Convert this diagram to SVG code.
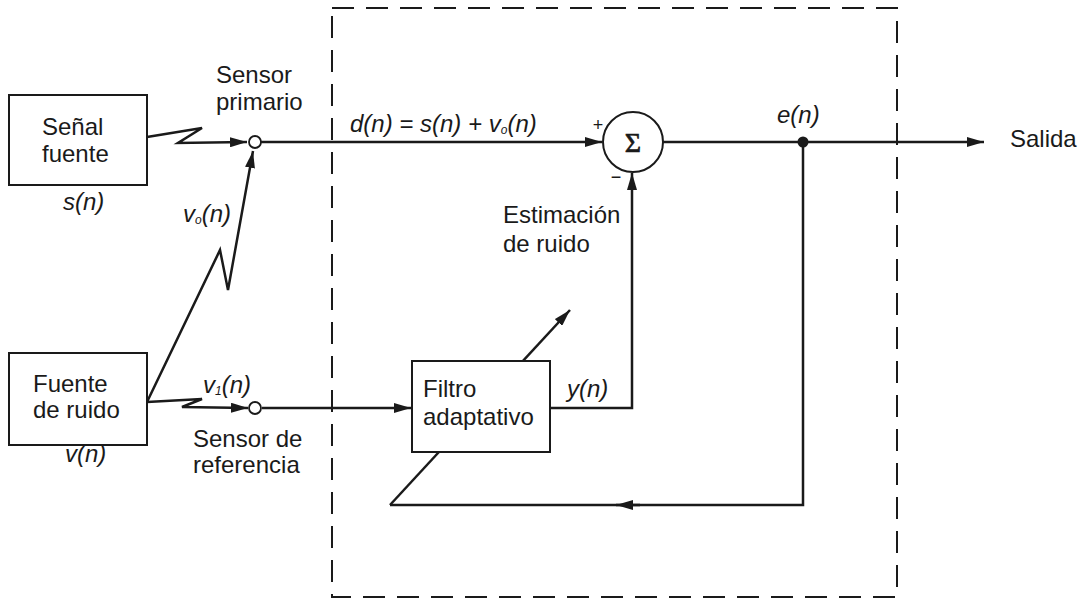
<svg xmlns="http://www.w3.org/2000/svg" width="1084" height="608" viewBox="0 0 1084 608">
<style>
text{font-family:"Liberation Sans",Arial,sans-serif;font-size:24px;fill:#1a1a1a}
.it{font-style:italic}
.ln{fill:none;stroke:#1a1a1a;stroke-width:2.5}
.box{fill:#fff;stroke:#1a1a1a;stroke-width:2}
.dash{fill:none;stroke:#1a1a1a;stroke-width:2;stroke-dasharray:22 12}
.sign{font-size:18px;fill:#1a1a1a}
</style>
<defs>
<marker id="ah" viewBox="0 0 17 10" refX="17" refY="5" markerWidth="17" markerHeight="10" markerUnits="userSpaceOnUse" orient="auto">
<path d="M0,0 L17,5 L0,10 Z" fill="#1a1a1a"/>
</marker>
</defs>
<rect fill="#fff" x="0" y="0" width="1084" height="608"/>
<rect class="dash" x="332" y="8" width="565" height="589"/>
<g id="connectors">
<polyline class="ln" points="147,137 202,128 178,143 247,142" marker-end="url(#ah)"/>
<polyline class="ln" points="147,402 220,250 228,290 253,151" marker-end="url(#ah)"/>
<polyline class="ln" points="147,402 202,399 182,407 248,408" marker-end="url(#ah)"/>
<line class="ln" x1="261" y1="142" x2="602" y2="142" marker-end="url(#ah)"/>
<line class="ln" x1="262" y1="408" x2="411" y2="408" marker-end="url(#ah)"/>
<polyline class="ln" points="550,408 632,408 632,173" marker-end="url(#ah)"/>
<line class="ln" x1="663" y1="142" x2="984" y2="142" marker-end="url(#ah)"/>
<polyline class="ln" points="803,142 803,505 390,505"/>
<line class="ln" x1="640" y1="505" x2="616" y2="505" marker-end="url(#ah)"/>
<line class="ln" x1="390" y1="505" x2="570" y2="310" marker-end="url(#ah)"/>
<circle cx="803" cy="142" r="5.5" fill="#1a1a1a"/>
</g>
<g id="senal-fuente">
<rect class="box" x="9" y="95" width="138" height="90"/>
<text x="42" y="135">Señal</text>
<text x="42" y="162">fuente</text>
<text class="it" x="63" y="210">s(n)</text>
</g>
<g id="fuente-ruido">
<rect class="box" x="9" y="353" width="138" height="92"/>
<text x="33" y="392">Fuente</text>
<text x="33" y="418">de ruido</text>
<text class="it" x="65" y="462">v(n)</text>
</g>
<g id="sensor-primario">
<circle cx="255" cy="142" r="6" fill="#fff" stroke="#1a1a1a" stroke-width="1.8"/>
<text x="216" y="83">Sensor</text>
<text x="216" y="110">primario</text>
<text class="it" x="183" y="222">v<tspan font-size="12" dy="2">o</tspan><tspan dy="-2">(n)</tspan></text>
</g>
<g id="sensor-referencia">
<circle cx="255" cy="408" r="6" fill="#fff" stroke="#1a1a1a" stroke-width="1.8"/>
<text class="it" x="203" y="393">v<tspan font-size="12" dy="2">1</tspan><tspan dy="-2">(n)</tspan></text>
<text x="193" y="447">Sensor de</text>
<text x="193" y="473">referencia</text>
</g>
<g id="filtro">
<rect class="box" x="412" y="361" width="138" height="91"/>
<text x="423" y="397">Filtro</text>
<text x="423" y="425">adaptativo</text>
<text class="it" x="567" y="397">y(n)</text>
</g>
<g id="sumador">
<circle cx="633" cy="142" r="30" fill="#fff" stroke="#1a1a1a" stroke-width="2"/>
<text x="633" y="152" text-anchor="middle" stroke="#1a1a1a" stroke-width="0.7" style="font-family:'Liberation Serif','Times New Roman',serif;font-size:28px">Σ</text>
<text class="sign" x="598" y="131" text-anchor="middle">+</text>
<text class="sign" x="616" y="183" text-anchor="middle">−</text>
<text class="it" x="350" y="132">d(n) = s(n) + v<tspan font-size="12" dy="2">o</tspan><tspan dy="-2">(n)</tspan></text>
<text x="503" y="223">Estimación</text>
<text x="503" y="252">de ruido</text>
</g>
<g id="salida">
<text class="it" x="777" y="123">e(n)</text>
<text x="1010" y="147">Salida</text>
</g>
</svg>
